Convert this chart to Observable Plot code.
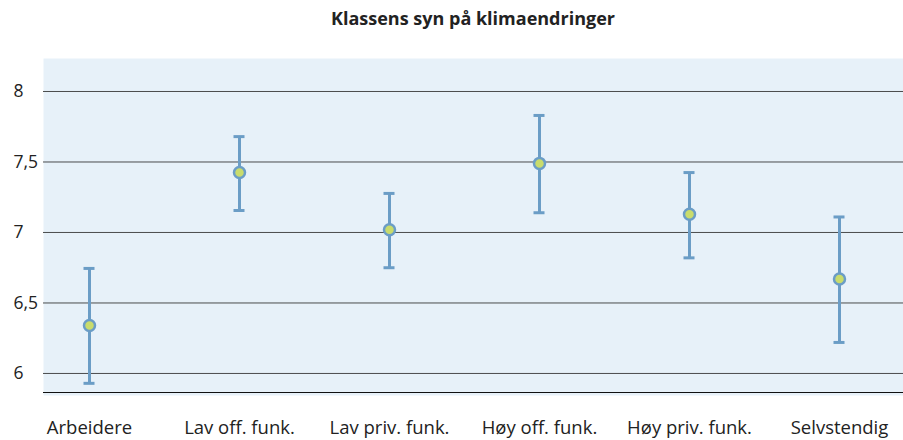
<!DOCTYPE html>
<html>
<head>
<meta charset="utf-8">
<script src="https://cdn.jsdelivr.net/npm/d3@7"></script>
<script src="https://cdn.jsdelivr.net/npm/@observablehq/plot@0.6"></script>
<style>
  body { margin: 0; background: #fff; font-family: "Open Sans", sans-serif; }
  #title { height: 40px; width: 903px; box-sizing: border-box; padding-left: 43px; text-align: center; font-weight: bold; font-size: 18px; line-height: 36px; color: #222; }
</style>
</head>
<body>
<div id="title">Klassens syn på klimaendringer</div>
<div id="chart"></div>
<script>
const categories = ["Arbeidere", "Lav off. funk.", "Lav priv. funk.", "Høy off. funk.", "Høy priv. funk.", "Selvstendig"];
const means = [6.34, 7.425, 7.02, 7.49, 7.13, 6.67];
const lower = [5.93, 7.156, 6.75, 7.14, 6.82, 6.22];
const upper = [6.745, 7.68, 7.277, 7.83, 7.425, 7.11];
const yTicks = [6, 6.5, 7, 7.5, 8];

const data = categories.map((c, i) => ({cat: c, mean: means[i], lo: lower[i], hi: upper[i]}));

const blue = "#6b9dc6";
const chart = Plot.plot({
  width: 903,
  height: 400,
  marginLeft: 43,
  marginRight: 0,
  marginTop: 18,
  marginBottom: 48,
  style: {fontFamily: "'Open Sans', sans-serif", fontSize: "17px", color: "#222", background: "transparent"},
  x: {type: "band", domain: categories, range: [14, 914], padding: 0, label: null},
  y: {domain: [5.865, 8.234], label: null},
  marks: [
    Plot.frame({fill: "#e7f1f9", stroke: "none", insetBottom: -3}),
    Plot.ruleY(yTicks, {stroke: "#3a3a3a", strokeWidth: 1, strokeOpacity: 0.9}),
    Plot.ruleY([5.865], {stroke: "#111", strokeWidth: 1.2}),
    Plot.ruleX(data, {x: "cat", y1: "lo", y2: "hi", stroke: blue, strokeWidth: 3}),
    Plot.tickY(data, {x: "cat", y: "lo", stroke: blue, strokeWidth: 3, inset: 69.5}),
    Plot.tickY(data, {x: "cat", y: "hi", stroke: blue, strokeWidth: 3, inset: 69.5}),
    Plot.dot(data, {x: "cat", y: "mean", r: 5.5, fill: "#c9dc6c", stroke: blue, strokeWidth: 2.5}),
    Plot.axisY(yTicks, {tickSize: 0, tickPadding: 30, textAnchor: "start", tickFormat: d => String(d).replace(".", ","), fontSize: 17.5, label: null}),
    Plot.axisX({tickSize: 0, tickPadding: 28, fontSize: 18.5, label: null})
  ]
});
document.getElementById("chart").appendChild(chart);
</script>
</body>
</html>
